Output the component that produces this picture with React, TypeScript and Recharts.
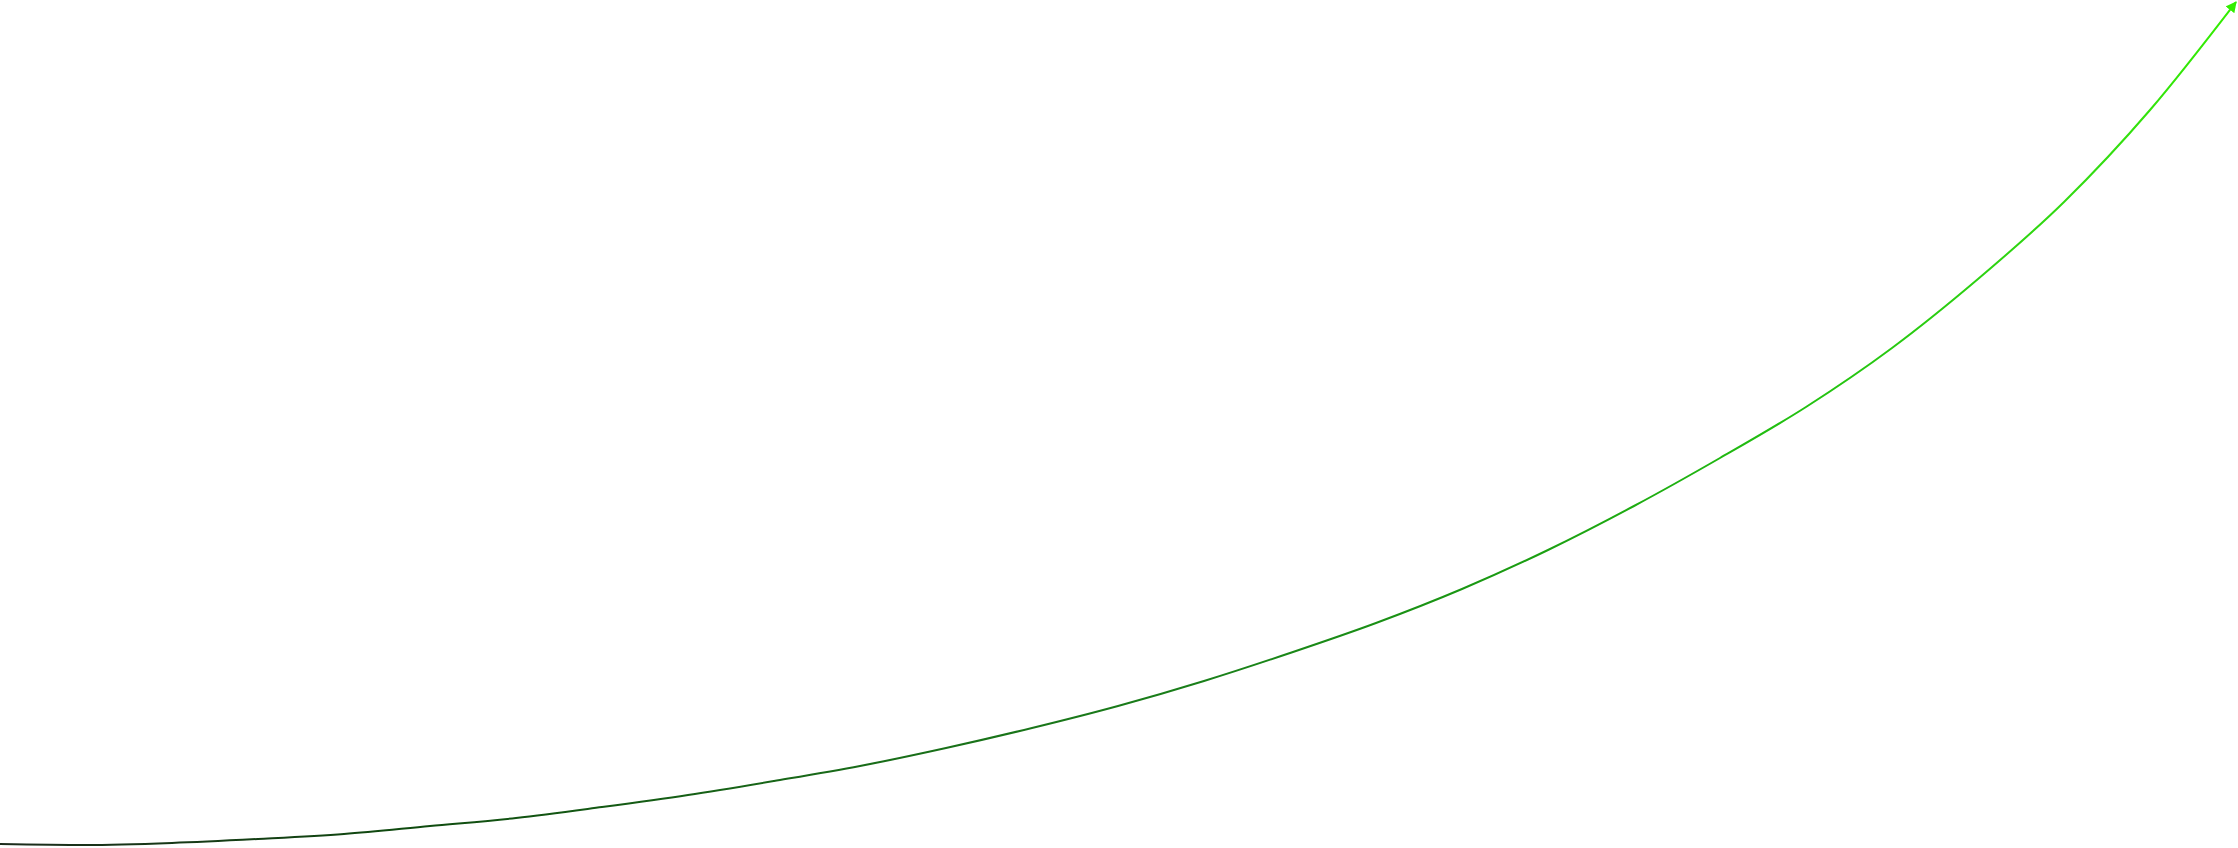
import { LineChart, Line, XAxis, YAxis } from "recharts";

const xValues = [0, 86, 172, 258, 344, 430, 516, 602, 688, 774, 860, 946, 1032, 1118, 1204, 1290, 1376, 1462, 1548, 1634, 1720, 1806, 1892, 1978, 2064, 2150, 2236];
const yValues = [4, 3, 5, 9, 14, 22, 30, 41, 53, 67, 82, 100, 120, 142, 167, 195, 225, 259, 298, 342, 390, 441, 500, 569, 646, 738, 846];

const gradientStops = [
  { offset: "0%", color: "#1c2b1c" },
  { offset: "18%", color: "#0f4a0f" },
  { offset: "36%", color: "#186818" },
  { offset: "54%", color: "#1a801a" },
  { offset: "67%", color: "#1a9a12" },
  { offset: "80%", color: "#22c011" },
  { offset: "94%", color: "#33dd11" },
  { offset: "100%", color: "#33ee00" },
];

const WIDTH = 2238;
const HEIGHT = 848;

export default function App() {
  const chartData = xValues.map((x, idx) => ({ x, y: yValues[idx] }));

  return (
    <div style={{ position: "absolute", left: 0, top: 0, width: WIDTH, height: HEIGHT, background: "#fff" }}>
      <svg width={0} height={0} style={{ position: "absolute" }}>
        <defs>
          <linearGradient id="curveGradient" x1="0" y1="0" x2="1" y2="0">
            {gradientStops.map((s) => (
              <stop key={s.offset} offset={s.offset} stopColor={s.color} />
            ))}
          </linearGradient>
          <marker
            id="arrowHead"
            viewBox="0 0 10 10"
            refX={9}
            refY={5}
            markerWidth={11}
            markerHeight={11}
            markerUnits="userSpaceOnUse"
            orient="auto"
          >
            <path d="M0,0 L10,5 L0,10 z" fill="#33ee00" />
          </marker>
        </defs>
      </svg>
      <LineChart width={WIDTH} height={HEIGHT} data={chartData} margin={{ top: 0, right: 0, bottom: 0, left: 0 }}>
        <XAxis
          dataKey="x"
          type="number"
          domain={[0, WIDTH]}
          height={0}
          tick={false}
          tickLine={false}
          axisLine={false}
        />
        <YAxis
          type="number"
          domain={[0, HEIGHT]}
          width={0}
          tick={false}
          tickLine={false}
          axisLine={false}
        />
        <Line
          type="monotone"
          dataKey="y"
          stroke="url(#curveGradient)"
          strokeWidth={2}
          dot={false}
          activeDot={false}
          markerEnd="url(#arrowHead)"
          isAnimationActive={false}
        />
      </LineChart>
    </div>
  );
}
